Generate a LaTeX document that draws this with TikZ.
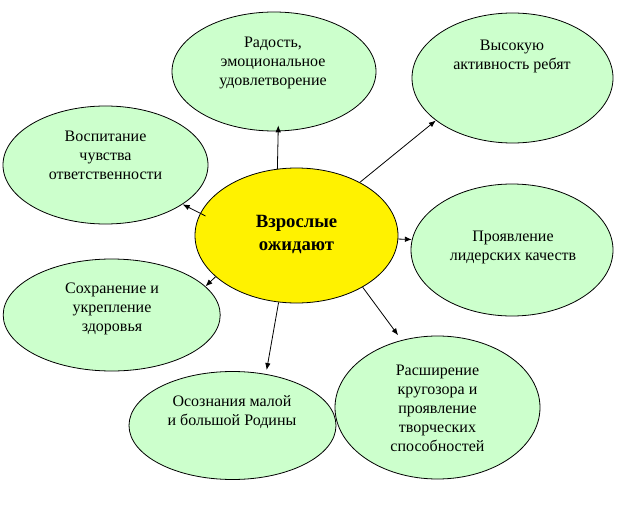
\documentclass[tikz,border=0pt]{standalone}
\usepackage{fontspec}
\setmainfont{Liberation Serif}
\usetikzlibrary{shapes.geometric,arrows.meta}
\definecolor{mint}{HTML}{CCFFCC}

\begin{document}
\begin{tikzpicture}[x=1pt,y=-1pt,
    bubble/.style={draw=black,line width=0.8pt,ellipse,fill=mint,inner sep=0pt},
    txt/.style={align=center,inner sep=0pt,font=\fontsize{16}{19}\selectfont},
    arr/.style={-{Latex[length=7pt,width=5.5pt]},line width=0.8pt}]
    \useasboundingbox (0,0) rectangle (618,508);
    %Centre
    \node [bubble,fill=yellow,minimum width=203pt,minimum height=135pt] (centre) at (296.5,235.5) {};
    \node [txt,font=\bfseries\fontsize{18.7}{23}\selectfont] (centre-t) at (296.5,235) {Взрослые\\ожидают};

    %Bubbles
    \node [bubble,minimum width=204pt,minimum height=119pt] (radost) at (274,71.5) {};
    \node [txt] (radost-t) at (273,62.5) {Радость,\\эмоциональное\\удовлетворение};
    \node [bubble,minimum width=201pt,minimum height=130pt] (activ) at (512.5,78) {};
    \node [txt] (activ-t) at (512,56) {Высокую\\активность ребят};
    \node [bubble,minimum width=205pt,minimum height=118pt] (vospit) at (105.5,165) {};
    \node [txt] (vospit-t) at (105.5,155.5) {Воспитание\\чувства\\ответственности};
    \node [bubble,minimum width=202pt,minimum height=132pt] (lider) at (512,250) {};
    \node [txt] (lider-t) at (513,247) {Проявление\\лидерских качеств};
    \node [bubble,minimum width=217pt,minimum height=112pt] (zdorov) at (111.7,315) {};
    \node [txt] (zdorov-t) at (112,309) {Сохранение и\\укрепление\\здоровья};
    \node [bubble,minimum width=207pt,minimum height=108pt] (rodina) at (232.5,425.5) {};
    \node [txt] (rodina-t) at (232,412) {Осознания малой\\и большой Родины};
    \node [bubble,minimum width=205pt,minimum height=143pt] (krugozor) at (437.5,407.5) {};
    \node [txt] (krugozor-t) at (437.5,408) {Расширение\\кругозора и\\проявление\\творческих\\способностей};

    %Arrows
    \draw [arr,shorten >=-6pt] (centre.106) -- (radost.-86);
    \draw [arr] (centre.40) -- (activ.-151);
    \draw [arr,shorten <=-6pt] (centre.167) -- (vospit.-27);
    \draw [arr] (centre.-2) -- (lider.174);
    \draw [arr] (centre.-153) -- (zdorov.17);
    \draw [arr,shorten >=4pt] (centre.-105) -- (rodina.57);
    \draw [arr,shorten >=6pt] (centre.-38) -- (krugozor.118);
\end{tikzpicture}
\end{document}
